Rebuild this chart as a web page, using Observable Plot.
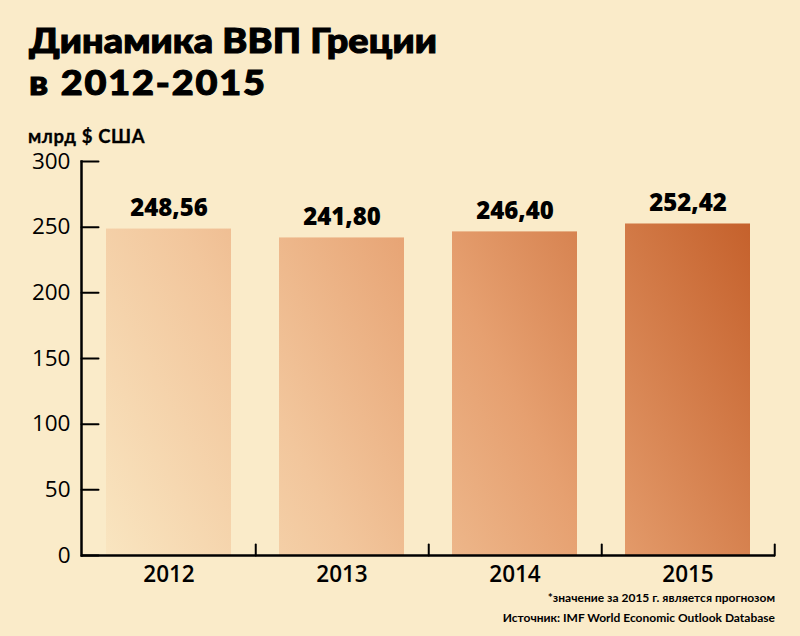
<!DOCTYPE html>
<html>
<head>
<meta charset="utf-8">
<script src="https://cdn.jsdelivr.net/npm/d3@7"></script>
<script src="https://cdn.jsdelivr.net/npm/@observablehq/plot@0.6"></script>
<style>
  html, body { margin: 0; padding: 0; background: #faebc9; }
  #wrap { position: relative; width: 800px; height: 636px; background: #faebc9; font-family: "Open Sans", sans-serif; color: #000; overflow: hidden; }
  #wrap svg { position: absolute; left: 0; top: 0; }
  .title { position: absolute; left: 29px; font-family: Lato, sans-serif; font-size: 35px; font-weight: 900; line-height: 1; white-space: nowrap; transform-origin: 0 0; transform: scaleX(1.08); -webkit-text-stroke: 1.1px #000; }
  .unit { position: absolute; left: 28px; top: 127px; font-family: Lato, sans-serif; font-size: 18.5px; font-weight: 700; line-height: 1; letter-spacing: 0.6px; white-space: nowrap; -webkit-text-stroke: 0.3px #000; }
  .note { position: absolute; right: 25px; font-family: Lato, sans-serif; font-size: 12px; font-weight: 700; line-height: 1; white-space: nowrap; }
</style>
</head>
<body>
<div id="wrap">
  <div class="title" style="top:22px; letter-spacing:0.1px">Динамика ВВП Греции</div>
  <div class="title" style="top:64px; letter-spacing:1.7px">в 2012-2015</div>
  <div class="unit">млрд $ США</div>
  <div class="note" style="top:592px">*значение за 2015 г. является прогнозом</div>
  <div class="note" style="top:612px">Источник: IMF World Economic Outlook Database</div>
</div>
<script>
const years = ["2012", "2013", "2014", "2015"];
const gdp = [248.56, 241.80, 246.40, 252.42];
const yTicks = [0, 50, 100, 150, 200, 250, 300];

const data = years.map((y, i) => ({year: y, value: gdp[i], label: gdp[i].toFixed(2).replace(".", ",")}));

const W = 800, H = 636, mL = 81, mR = 25, mT = 161, mB = 81;
const step = (W - mL - mR) / years.length;

const chart = Plot.plot({
  width: W,
  height: H,
  marginLeft: mL,
  marginRight: mR,
  marginTop: mT,
  marginBottom: mB,
  style: {background: "transparent", fontFamily: "Open Sans, sans-serif", color: "#000", overflow: "visible"},
  x: {domain: years, paddingInner: 0.28, paddingOuter: 0.14, align: 0.5},
  y: {domain: [0, 300], ticks: yTicks},
  marks: [
    Plot.barY(data, {x: "year", y: "value", fill: "url(#barGrad)"}),
    Plot.axisY({ticks: yTicks, tickSize: 0, tickPadding: 11, fontSize: 22.5, fontWeight: 500, label: null}),
    Plot.axisX({tickSize: 0, tickPadding: 11, fontSize: 22.5, fontWeight: 600, label: null}),
    Plot.vector(yTicks, {y: d => d, frameAnchor: "left", rotate: 90, length: 17, anchor: "start", stroke: "#000", strokeWidth: 2,
      shape: {draw(ctx, l) { ctx.moveTo(0, 0); ctx.lineTo(0, -l); }}}),
    Plot.vector(years, {x: d => d, y: 0, dx: step / 2, rotate: 0, length: 11, anchor: "start", stroke: "#000", strokeWidth: 2,
      shape: {draw(ctx, l) { ctx.moveTo(0, 0); ctx.lineTo(0, -l); }}}),
    Plot.ruleY([0], {stroke: "#000", strokeWidth: 2.5}),
    Plot.frame({anchor: "left", stroke: "#000", strokeWidth: 2.5}),
    Plot.text(data, {x: "year", y: "value", text: "label", dy: -21, fontSize: 24, fontWeight: 800, fill: "#000"})
  ]
});

// gradient across all bars, computed from the scales
const xs = chart.scale("x"), ys = chart.scale("y");
const gx1 = xs.apply(years[0]), gx2 = xs.apply(years[years.length - 1]) + xs.bandwidth;
const gy1 = ys.apply(0), gy2 = ys.apply(d3.max(gdp));
const ns = "http://www.w3.org/2000/svg";
const defs = document.createElementNS(ns, "defs");
const grad = document.createElementNS(ns, "linearGradient");
grad.setAttribute("id", "barGrad");
grad.setAttribute("gradientUnits", "userSpaceOnUse");
grad.setAttribute("x1", gx1); grad.setAttribute("y1", gy1);
grad.setAttribute("x2", gx2); grad.setAttribute("y2", gy2);
[[0, "#f9e5c0"], [0.3, "#f2c69c"], [0.6, "#e6a070"], [1, "#c5612c"]].forEach(([o, c]) => {
  const s = document.createElementNS(ns, "stop");
  s.setAttribute("offset", o); s.setAttribute("stop-color", c);
  grad.appendChild(s);
});
defs.appendChild(grad);
chart.insertBefore(defs, chart.firstChild);

document.getElementById("wrap").insertBefore(chart, document.getElementById("wrap").firstChild);
</script>
</body>
</html>
